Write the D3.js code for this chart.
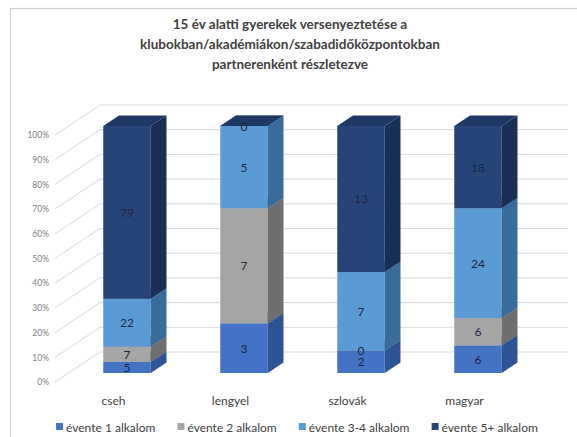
<!DOCTYPE html>
<html>
<head>
<meta charset="utf-8">
<script src="https://cdn.jsdelivr.net/npm/d3@7"></script>
<style>
  html, body { margin: 0; padding: 0; background: #fff; }
  svg { display: block; font-family: Lato, "Open Sans", sans-serif; }
</style>
</head>
<body>
<svg id="chart" width="577" height="437"></svg>
<script>
// Partners (categories) and the number of competitions per year, one array per series
const categories = ["cseh", "lengyel", "szlovák", "magyar"];
const seriesNames = ["évente 1 alkalom", "évente 2 alkalom", "évente 3-4 alkalom", "évente 5+ alkalom"];
const onceAYear = [5, 3, 2, 6];
const twiceAYear = [7, 7, 0, 6];
const threeFourAYear = [22, 5, 7, 24];
const fivePlusAYear = [79, 0, 13, 18];
const yTickValues = [0, 0.1, 0.2, 0.3, 0.4, 0.5, 0.6, 0.7, 0.8, 0.9, 1];
const titleLines = [
  "15 év alatti gyerekek versenyeztetése a",
  "klubokban/akadémiákon/szabadidőközpontokban",
  "partnerenként  részletezve"
];

// Face colours per series: front, right side, top
const palette = [
  { front: "#4472C4", side: "#2E5396", top: "#3A64B0" },
  { front: "#A5A5A5", side: "#6F6F6F", top: "#888888" },
  { front: "#5B9BD5", side: "#3A6C9B", top: "#4C86BD" },
  { front: "#264478", side: "#1A2F55", top: "#1E3863" }
];

const rows = categories.map((c, i) => ({
  cat: c,
  [seriesNames[0]]: onceAYear[i],
  [seriesNames[1]]: twiceAYear[i],
  [seriesNames[2]]: threeFourAYear[i],
  [seriesNames[3]]: fivePlusAYear[i]
}));

const stacked = d3.stack().keys(seriesNames).offset(d3.stackOffsetExpand)(rows);

const svg = d3.select("#chart");

// chart frame
svg.append("rect")
  .attr("x", 10.5).attr("y", 8.5)
  .attr("width", 620).attr("height", 500)
  .attr("fill", "#fff").attr("stroke", "#cfcfcf").attr("stroke-width", 1.2);

// title
svg.append("g").selectAll("text").data(titleLines).join("text")
  .attr("x", 290).attr("y", (d, i) => 29 + i * 20)
  .attr("text-anchor", "middle")
  .attr("font-size", 13.5).attr("font-weight", "bold")
  .attr("fill", "#404040")
  .text(d => d);

// oblique 3D projection: depth 0..1 moves right and up
const wallDX = 45, wallDY = -30;
const x = d3.scaleBand().domain(categories).range([55, 523]).paddingInner(0.594).paddingOuter(0.297);
const y = d3.scaleLinear().domain([0, 1]).range([382, 135]);
const px = (xv, d) => xv + wallDX * d;
const py = (yv, d) => yv + wallDY * d;

// gridlines along the side wall and the back wall
const grid = svg.append("g").attr("fill", "none").attr("stroke", "#d9d9d9").attr("stroke-width", 1);
grid.selectAll("polyline").data(yTickValues).join("polyline")
  .attr("points", t => [
    [55, y(t)], [px(55, 1), py(y(t), 1)], [px(523, 1), py(y(t), 1)]
  ].map(p => p.join(",")).join(" "));

// y axis labels at the front edge of the side wall
const yAxis = svg.append("g").attr("transform", "translate(55,0)")
  .call(d3.axisLeft(y).tickValues(yTickValues).tickFormat(d3.format(".0%")).tickSize(0).tickPadding(6));
yAxis.select(".domain").remove();
yAxis.selectAll("text").attr("font-family", "Lato, sans-serif").attr("font-size", 8.5).attr("fill", "#808080");

// category labels under the floor front edge
const xAxis = svg.append("g").attr("transform", "translate(0,394)")
  .call(d3.axisBottom(x).tickSize(0).tickPadding(2));
xAxis.select(".domain").remove();
xAxis.selectAll("text").attr("font-family", "Lato, sans-serif").attr("font-size", 12).attr("fill", "#404040");

// bars: front face at depth d0, back at d1
const d0 = 0.3, d1 = 0.65;
const bw = x.bandwidth();
const poly = pts => pts.map(p => p.join(",")).join(" ");

const bars = svg.append("g");
categories.forEach((cat, ci) => {
  const xl = px(x(cat), d0), xr = xl + bw;
  const ddx = wallDX * (d1 - d0), ddy = wallDY * (d1 - d0);
  stacked.forEach((layer, si) => {
    const seg = layer[ci];
    const yb = py(y(seg[0]), d0), yt = py(y(seg[1]), d0);
    const col = palette[si];
    bars.append("polygon").attr("points", poly([[xl, yb], [xr, yb], [xr, yt], [xl, yt]])).attr("fill", col.front);
    bars.append("polygon").attr("points", poly([[xr, yb], [xr + ddx, yb + ddy], [xr + ddx, yt + ddy], [xr, yt]])).attr("fill", col.side);
    bars.append("polygon").attr("points", poly([[xl, yt], [xr, yt], [xr + ddx, yt + ddy], [xl + ddx, yt + ddy]])).attr("fill", col.top);
  });
});

// value labels centred on each segment's front face
const labels = svg.append("g");
stacked.forEach((layer, si) => {
  layer.forEach((seg, ci) => {
    const cat = categories[ci];
    const cx = px(x(cat), d0) + bw / 2;
    const cy = py(y((seg[0] + seg[1]) / 2), d0);
    labels.append("text")
      .attr("x", cx).attr("y", cy)
      .attr("text-anchor", "middle").attr("dominant-baseline", "central")
      .attr("font-size", 12).attr("fill", "#1b2544")
      .text(seg.data[seriesNames[si]]);
  });
});

// legend along the bottom, centred
const legend = svg.append("g").attr("transform", "translate(0,427)");
const items = legend.selectAll("g").data(seriesNames).join("g");
items.append("rect").attr("width", 7).attr("height", 7).attr("y", -4)
  .attr("fill", (d, i) => palette[i].front);
items.append("text").attr("x", 10).attr("y", 0).attr("dominant-baseline", "central")
  .attr("font-size", 12).attr("fill", "#404040").text(d => d);
let offs = [], cur = 0;
items.each(function () {
  const w = this.getBBox().width;
  offs.push(cur);
  cur += w + 22;
});
const total = cur - 22;
const start = 297 - total / 2;
items.attr("transform", (d, i) => `translate(${start + offs[i]},0)`);
</script>
</body>
</html>
